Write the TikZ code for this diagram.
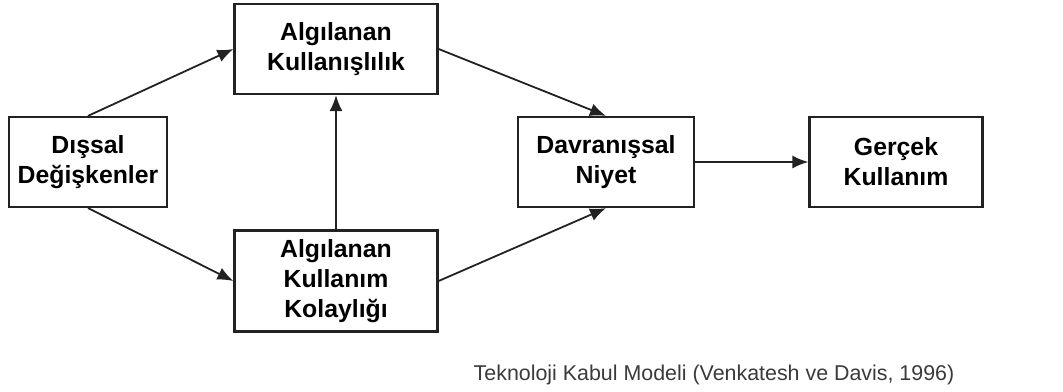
\documentclass[tikz,border=0pt]{standalone}
\usepackage{fontspec}
\setmainfont{Liberation Sans}
\usetikzlibrary{arrows.meta}
\definecolor{cizgi}{HTML}{222222}
\definecolor{yazi}{HTML}{3A3A3A}

\begin{document}
\begin{tikzpicture}[font=\fontsize{12.4}{15}\selectfont\bfseries, node distance={124pt}, line width=0.9pt, kutu/.style = {draw=cizgi, line width=1.1pt, rectangle, align=center, inner sep=0pt, minimum height=45pt}, ok/.style = {draw=cizgi, -{Latex[length=8pt,width=6.5pt]}}]
                    \useasboundingbox (-44pt,-114.5pt) rectangle (487.5pt,81pt);
                    \node[kutu, minimum width=79pt] (dis) {Dışsal\\Değişkenler};
                    \node[kutu, minimum width=101.5pt] (ak) [right of=dis, yshift=56.5pt] {Algılanan\\Kullanışlılık};
                    \node[kutu, minimum width=101.5pt, minimum height=50.5pt] (akk) [right of=dis, yshift=-59.5pt] {Algılanan\\Kullanım\\Kolaylığı};
                    \node[kutu, minimum width=88pt] (dn) [right of=ak, yshift=-56.5pt, xshift=11pt] {Davranışsal\\Niyet};
                    \node[kutu, minimum width=86.5pt] (gk) [right of=dn, xshift=21pt] {Gerçek\\Kullanım};
                    \node[font=\fontsize{10.7}{13}\selectfont, text=yazi] (baslik) at (313pt,-106.5pt) {Teknoloji Kabul Modeli (Venkatesh ve Davis, 1996)};
                    \draw[ok] (dis.north) -- (ak.west);
                    \draw[ok] (dis.south) -- (akk.west);
                    \draw[ok] (akk.north) -- (ak.south);
                    \draw[ok] (ak.east) -- (dn.north);
                    \draw[ok] (akk.east) -- (dn.south);
                    \draw[ok] (dn.east) -- (gk.west);
                \end{tikzpicture}
\end{document}
